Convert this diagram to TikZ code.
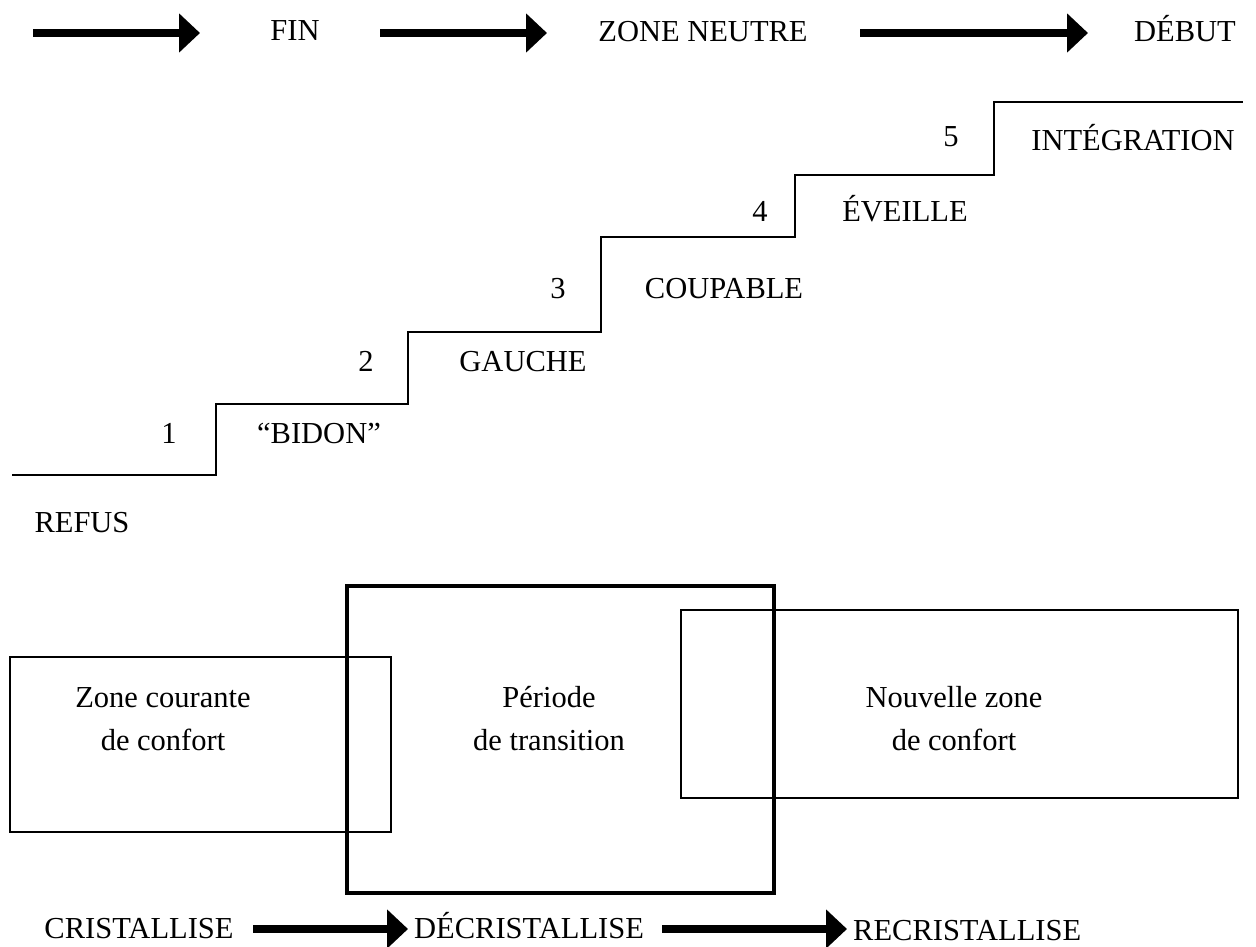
\documentclass[tikz,border=0pt]{standalone}
\usepackage{fontspec}
\setmainfont{Liberation Serif}
\usetikzlibrary{arrows.meta}
\begin{document}
\begin{tikzpicture}[x=1pt,y=-1pt,
  lbl/.style={anchor=base,inner sep=0pt,font=\fontsize{30.5pt}{36pt}\selectfont},
  bigarrow/.style={line width=8.5pt,-{Triangle[length=21pt,width=38pt]}},
  stair/.style={line width=2.5pt,line join=miter},
  thinbox/.style={draw,line width=2pt},
  thickbox/.style={draw,line width=4.5pt}]
\useasboundingbox (0,0) rectangle (1256,947);
% top row
\node[lbl] (fin) at (295,41) {FIN};
\node[lbl] (zn) at (703,42) {ZONE NEUTRE};
\node[lbl] (deb) at (1185,42) {DÉBUT};
\coordinate (a1s) at (33,33); \coordinate (a1e) at (200,33);
\coordinate (a2s) at (380,33); \coordinate (a2e) at (547,33);
\coordinate (a3s) at (860,33); \coordinate (a3e) at (1088,33);
\draw[bigarrow] (a1s) -- (a1e);
\draw[bigarrow] (a2s) -- (a2e);
\draw[bigarrow] (a3s) -- (a3e);
% stairs
\draw[stair] (12,475) -- (216,475) -- (216,404) -- (408,404) -- (408,332) -- (601,332)
  -- (601,237) -- (795,237) -- (795,175) -- (994,175) -- (994,102) -- (1243,102);
\node[lbl] (n1) at (169,443) {1};
\node[lbl] (s1) at (319,443) {“BIDON”};
\node[lbl] (n2) at (366,371) {2};
\node[lbl] (s2) at (523,371) {GAUCHE};
\node[lbl] (n3) at (558,298) {3};
\node[lbl] (s3) at (724,298) {COUPABLE};
\node[lbl] (n4) at (760,222) {4};
\node[lbl] (s4) at (905,222) {ÉVEILLE};
\node[lbl] (n5) at (951,147) {5};
\node[lbl] (s5) at (1133,151) {INTÉGRATION};
\node[lbl] (refus) at (82,532) {REFUS};
% boxes
\draw[thinbox] (10,657) rectangle (391,832);
\draw[thinbox] (681,610) rectangle (1238,798);
\draw[thickbox] (347,586) rectangle (774,893);
\node[lbl] (zc1) at (163,707) {Zone courante};
\node[lbl] (zc2) at (163,750) {de confort};
\node[lbl] (pt1) at (549,707) {Période};
\node[lbl] (pt2) at (549,750) {de transition};
\node[lbl] (nz1) at (954,707) {Nouvelle zone};
\node[lbl] (nz2) at (954,750) {de confort};
% bottom row
\node[lbl] (cr) at (139,938) {CRISTALLISE};
\node[lbl,anchor=base west] (dcr) at (414,938) {DÉCRISTALLISE};
\node[lbl,anchor=base west] (rcr) at (853,940) {RECRISTALLISE};
\coordinate (b1s) at (253,929); \coordinate (b1e) at (408,929);
\coordinate (b2s) at (662,929); \coordinate (b2e) at (847,929);
\draw[bigarrow] (b1s) -- (b1e);
\draw[bigarrow] (b2s) -- (b2e);
\end{tikzpicture}
\end{document}
